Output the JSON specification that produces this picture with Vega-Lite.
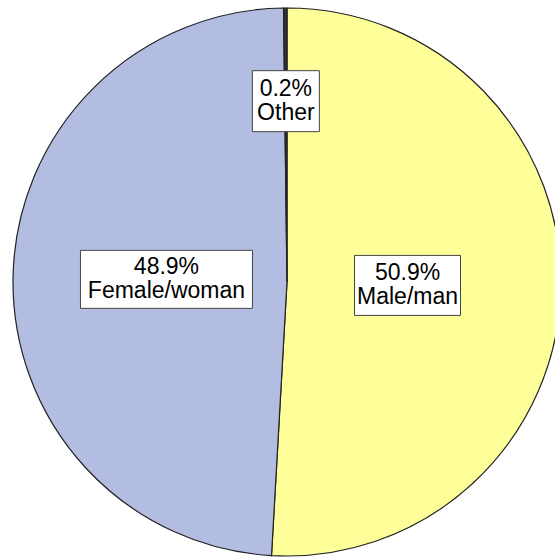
{
  "$schema": "https://vega.github.io/schema/vega-lite/v6.json",
  "width": 574,
  "height": 564,
  "padding": 0,
  "autosize": "none",
  "background": "white",
  "config": {"view": {"stroke": null}},
  "data": {"values": [
    {"gender": "Male/man", "pct": 50.9},
    {"gender": "Female/woman", "pct": 48.9},
    {"gender": "Other", "pct": 0.2}
  ]},
  "layer": [
    {
      "mark": {"type": "arc", "outerRadius": 274, "stroke": "#222222", "strokeWidth": 1.2},
      "encoding": {
        "theta": {"field": "pct", "type": "quantitative", "stack": true},
        "order": {"field": "pct", "sort": "descending"},
        "color": {"field": "gender", "type": "nominal", "scale": {"domain": ["Male/man", "Female/woman", "Other"], "range": ["#ffff99", "#b3bde2", "#333333"]}, "legend": null}
      }
    },
    {
      "transform": [
        {"window": [{"op": "sum", "field": "pct", "as": "cum"}], "sort": [{"field": "pct", "order": "descending"}], "frame": [null, 0]},
        {"calculate": "(datum.cum - datum.pct / 2) / 100 * 2 * PI", "as": "ang"},
        {"calculate": "datum.gender == 'Other' ? 0.66 : 0.44", "as": "r"},
        {"calculate": "datum.r * sin(datum.ang)", "as": "lx"},
        {"calculate": "datum.r * cos(datum.ang)", "as": "ly"},
        {"calculate": "[format(datum.pct, '.1f') + '%', datum.gender]", "as": "label"}
      ],
      "encoding": {
        "x": {"field": "lx", "type": "quantitative", "scale": {"domain": [-1.0474, 1.0474], "nice": false, "zero": false}, "axis": null},
        "y": {"field": "ly", "type": "quantitative", "scale": {"domain": [-1.0292, 1.0292], "nice": false, "zero": false}, "axis": null}
      },
      "layer": [
        {
          "mark": {"type": "point", "filled": true, "fill": "white", "stroke": "#444444", "strokeWidth": 1, "opacity": 1, "size": 40000},
          "encoding": {
            "shape": {"field": "gender", "type": "nominal", "legend": null, "scale": {"domain": ["Female/woman", "Male/man", "Other"], "range": ["M-0.86,-0.29H0.86V0.29H-0.86Z", "M-0.53,-0.3H0.53V0.3H-0.53Z", "M-0.335,-0.305H0.335V0.305H-0.335Z"]}}
          }
        },
        {
          "mark": {"type": "text", "font": "Liberation Sans", "fontSize": 23, "lineHeight": 24, "color": "#000000", "baseline": "middle", "align": "center", "dy": -12},
          "encoding": {"text": {"field": "label", "type": "nominal"}}
        }
      ]
    }
  ]
}
